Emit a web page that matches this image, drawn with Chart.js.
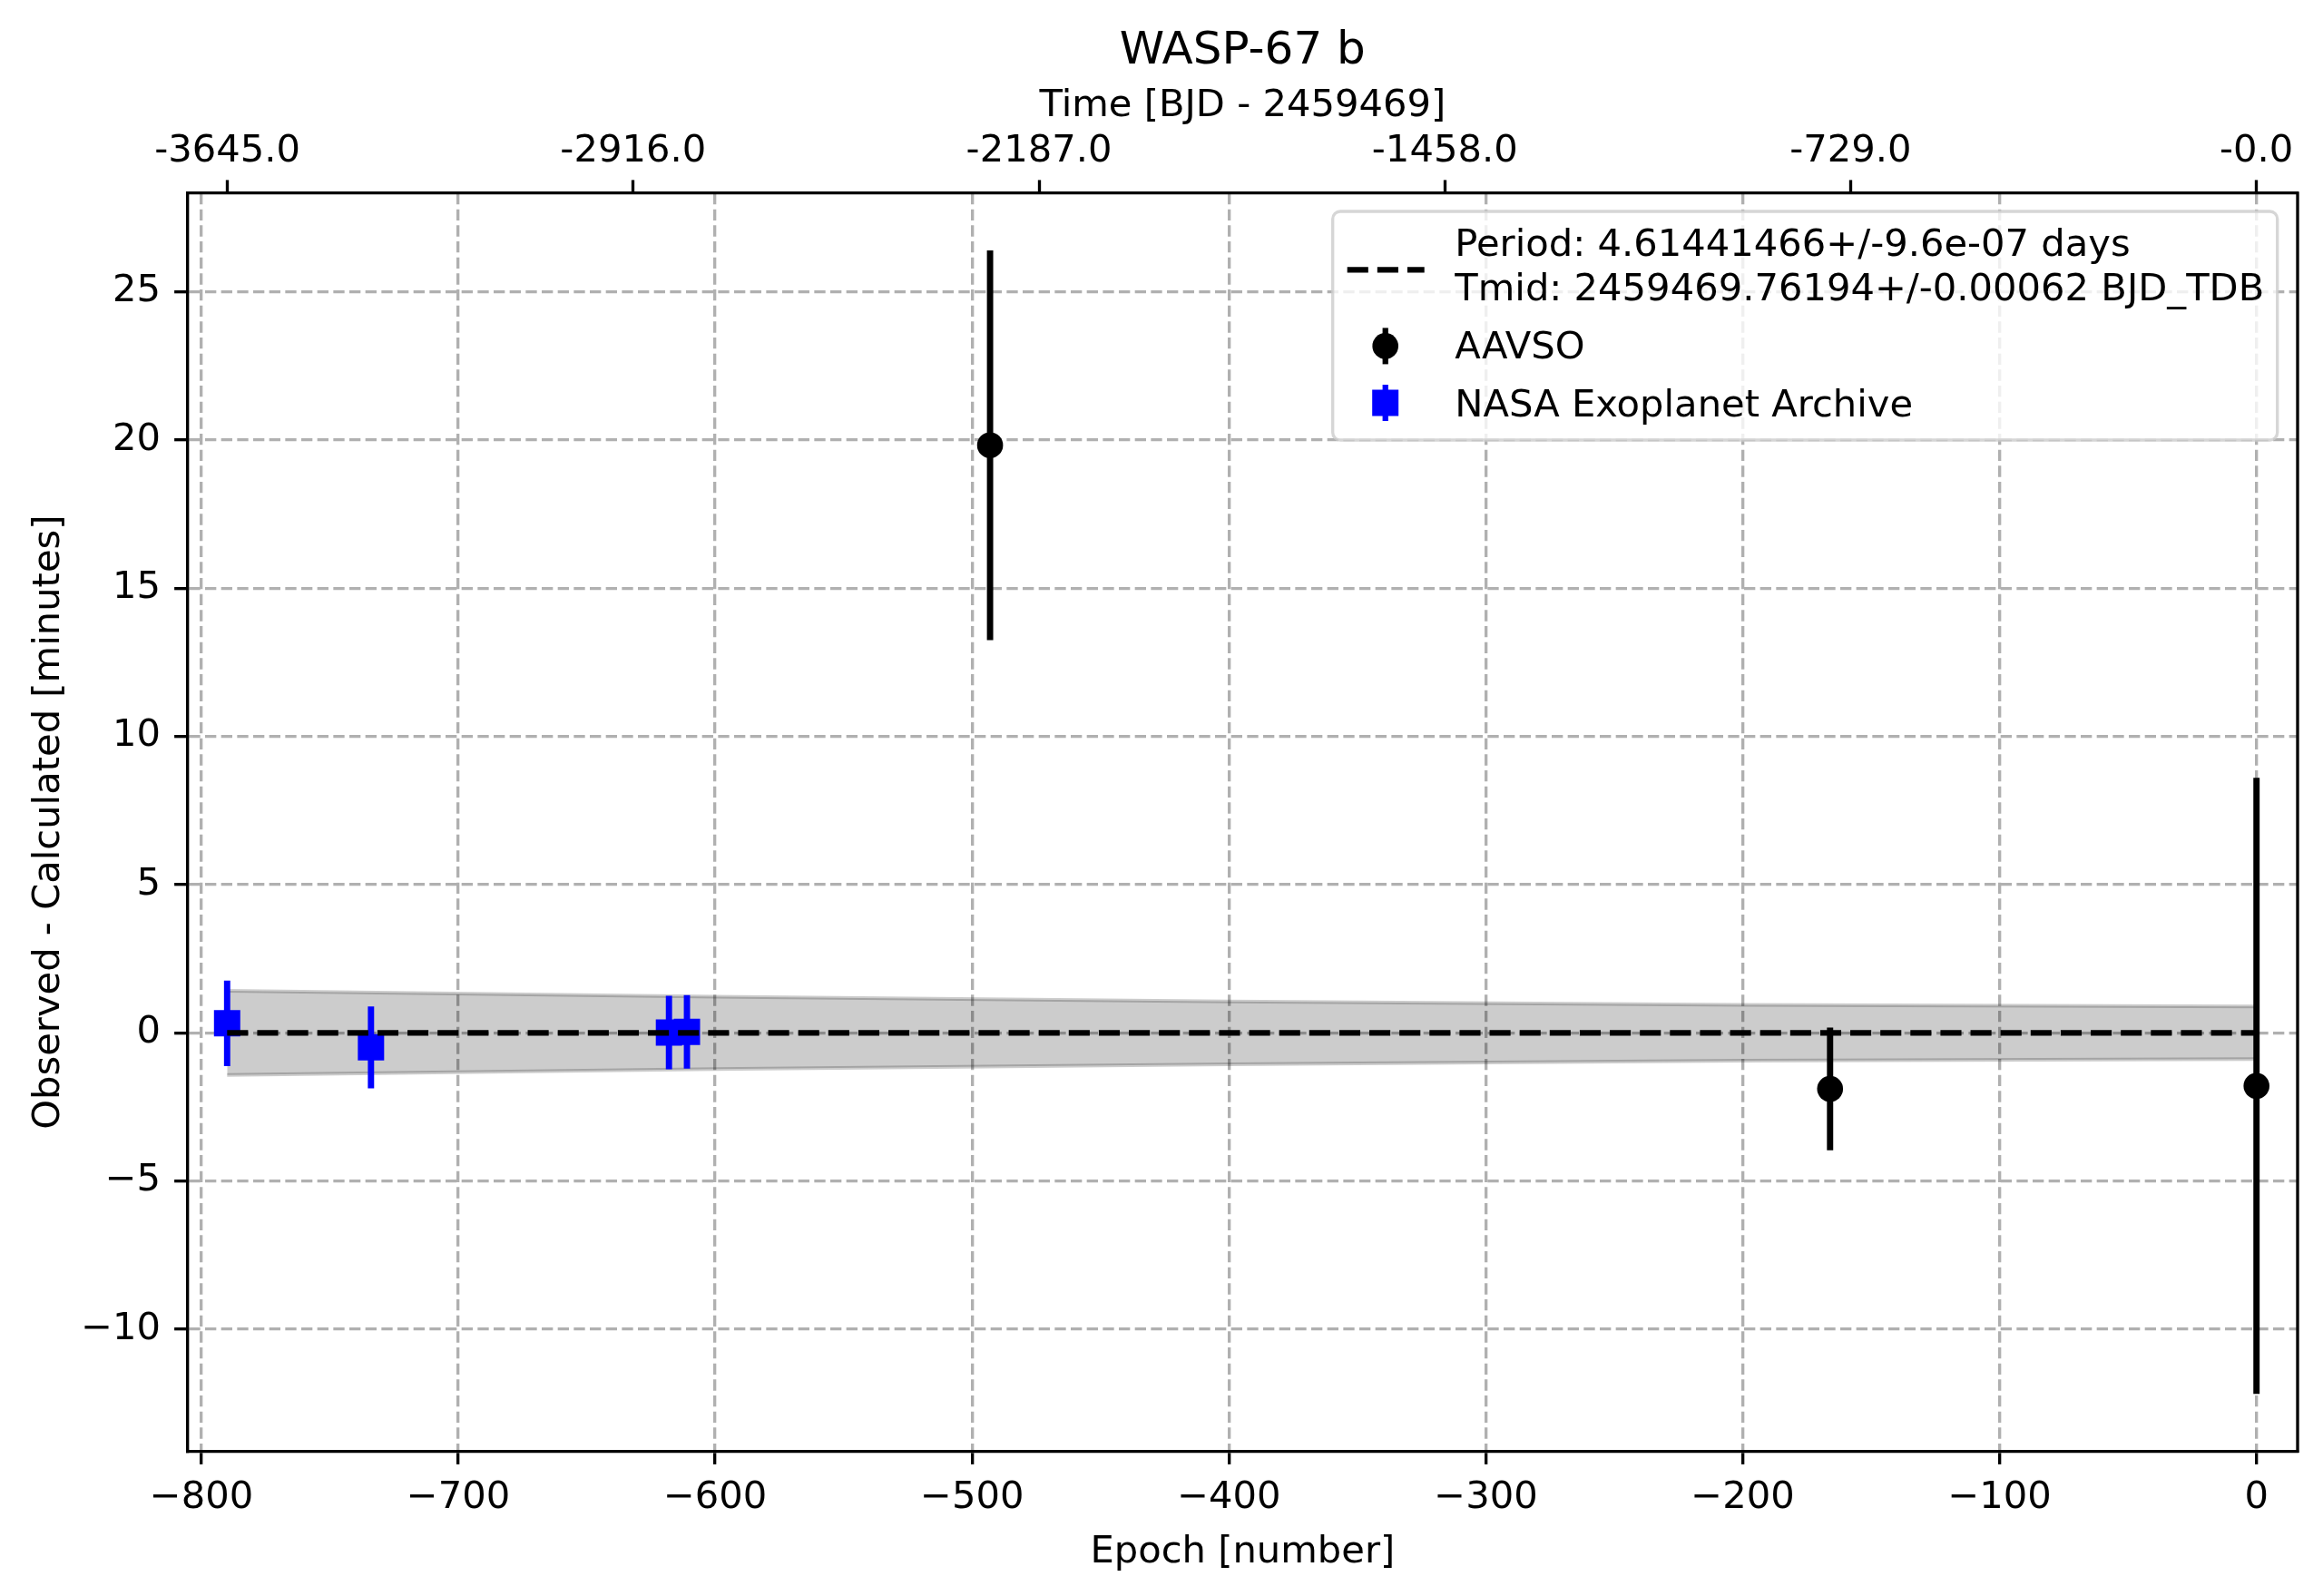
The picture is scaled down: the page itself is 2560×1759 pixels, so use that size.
<!DOCTYPE html>
<html>
<head>
<meta charset="utf-8">
<title>WASP-67 b O-C</title>
<script src="https://cdn.jsdelivr.net/npm/chart.js@4.4.1/dist/chart.umd.min.js"></script>
<style>
  html, body { margin: 0; padding: 0; background: #fff; }
  #wrap { width: 2560px; height: 1759px; }
</style>
</head>
<body>
<div id="wrap"><canvas id="chart" width="2560" height="1759" style="width:2560px;height:1759px"></canvas></div>
<script>
// O-C values (x: epoch number, y: minutes)
const aavsoEpoch = [-493, -166, 0];
const aavsoOC = [19.82, -1.89, -1.79];
const aavsoErr = [6.56, 2.06, 10.38];

const nasaEpoch = [-790, -734, -618, -611];
const nasaOC = [0.32, -0.49, 0.01, 0.03];
const nasaErr = [1.43, 1.37, 1.23, 1.23];

// linear ephemeris (dashed) and its 1-sigma band
const fitEpoch = [-790, 0];
const fitOC = [0, 0];
const bandEpoch = [-790, -600, -400, -200, 0];
const bandUpper = [1.42, 1.22, 1.06, 0.94, 0.89];
const bandLower = [-1.42, -1.22, -1.06, -0.94, -0.89];

// top axis: time ticks in days, converted to epochs with the period
const period = 4.61441466;
const topTickTimes = [-3645, -2916, -2187, -1458, -729, 0];
const topTickLabels = ['-3645.0', '-2916.0', '-2187.0', '-1458.0', '-729.0', '-0.0'];

const fitLabel = ['Period: 4.61441466+/-9.6e-07 days', 'Tmid: 2459469.76194+/-0.00062 BJD_TDB'];

const xMin = -805.4, xMax = 16.0;
const yMin = -14.11, yMax = 28.32;

const PT = 300 / 72; // matplotlib points -> pixels at 300 dpi

Chart.defaults.font.family = "'DejaVu Sans', sans-serif";
Chart.defaults.font.size = 10 * PT;
Chart.defaults.color = '#000';

const pts = (xs, ys) => xs.map((x, i) => ({ x: x, y: ys[i] }));
const errBars = (xs, ys, es) => xs.map((x, i) => ({ x: x, y: [ys[i] - es[i], ys[i] + es[i]] }));
const minusFmt = v => (v < 0 ? '\u2212' + Math.abs(v) : String(v));

const gridDash = [3.7 * 0.8 * PT, 1.6 * 0.8 * PT];

// right spine + matplotlib style legend box
const frame = {
  id: 'frame',
  afterDraw(chart) {
    const ctx = chart.ctx, a = chart.chartArea;
    const fs = 10 * PT;
    ctx.save();
    ctx.strokeStyle = '#000';
    ctx.lineWidth = 0.8 * PT;
    ctx.beginPath();
    ctx.moveTo(a.right, a.top - 1.7);
    ctx.lineTo(a.right, a.bottom + 1.7);
    ctx.stroke();

    const w = 1041, h = 252;
    const x0 = a.right - 22.3 - w, y0 = a.top + 20;
    ctx.beginPath();
    ctx.roundRect(x0, y0, w, h, 0.2 * fs);
    ctx.fillStyle = 'rgba(255,255,255,0.8)';
    ctx.fill();
    ctx.strokeStyle = 'rgba(204,204,204,0.8)';
    ctx.stroke();

    // dashed fit handle
    ctx.strokeStyle = '#000';
    ctx.lineWidth = 1.5 * PT;
    ctx.setLineDash([3.7 * 1.5 * PT, 1.6 * 1.5 * PT]);
    ctx.beginPath();
    ctx.moveTo(x0 + 16, y0 + 64.4);
    ctx.lineTo(x0 + 101, y0 + 64.4);
    ctx.stroke();
    ctx.setLineDash([]);

    const hx = x0 + 58;
    // AAVSO handle
    ctx.fillStyle = '#000';
    ctx.fillRect(hx - 3.1, y0 + 148.4 - 20, 6.25, 40);
    ctx.beginPath();
    ctx.arc(hx, y0 + 148.4, 14.3, 0, Math.PI * 2);
    ctx.fill();
    // NASA handle
    ctx.fillStyle = '#0000ff';
    ctx.fillRect(hx - 3.1, y0 + 211 - 20, 6.25, 40);
    ctx.fillRect(hx - 14.5, y0 + 211 - 14.5, 29, 29);

    ctx.fillStyle = '#000';
    ctx.font = fs + "px 'DejaVu Sans'";
    ctx.textBaseline = 'alphabetic';
    ctx.textAlign = 'left';
    const tx = x0 + 134.6;
    ctx.fillText(fitLabel[0], tx, y0 + 49.4);
    ctx.fillText(fitLabel[1], tx, y0 + 98.4);
    ctx.fillText('AAVSO', tx, y0 + 161.7);
    ctx.fillText('NASA Exoplanet Archive', tx, y0 + 226);
    ctx.restore();
  }
};

new Chart(document.getElementById('chart'), {
  type: 'scatter',
  data: {
    datasets: [
      {
        type: 'line', label: fitLabel.join(' '), data: pts(fitEpoch, fitOC),
        borderColor: '#000', borderWidth: 1.5 * PT,
        borderDash: [3.7 * 1.5 * PT, 1.6 * 1.5 * PT],
        pointRadius: 0, fill: false, order: 0
      },
      {
        type: 'scatter', label: 'AAVSO', data: pts(aavsoEpoch, aavsoOC),
        pointStyle: 'circle', pointRadius: 14.3, pointHoverRadius: 14.3,
        backgroundColor: '#000', borderWidth: 0, order: 1
      },
      {
        type: 'scatter', label: 'NASA Exoplanet Archive', data: pts(nasaEpoch, nasaOC),
        pointStyle: 'rect', pointRadius: 20.5, pointHoverRadius: 20.5,
        backgroundColor: '#0000ff', borderWidth: 0, order: 2
      },
      {
        type: 'bar', label: 'AAVSO err', data: errBars(aavsoEpoch, aavsoOC, aavsoErr),
        backgroundColor: '#000', borderWidth: 0, grouped: false,
        barThickness: 1.5 * PT, maxBarThickness: 1.5 * PT, order: 3
      },
      {
        type: 'bar', label: 'NASA err', data: errBars(nasaEpoch, nasaOC, nasaErr),
        backgroundColor: '#0000ff', borderWidth: 0, grouped: false,
        barThickness: 1.5 * PT, maxBarThickness: 1.5 * PT, order: 4
      },
      {
        type: 'line', label: 'band upper', data: pts(bandEpoch, bandUpper),
        borderColor: 'rgba(0,0,0,0.2)', borderWidth: 4,
        backgroundColor: 'rgba(0,0,0,0.2)', fill: '+1', pointRadius: 0, order: 5
      },
      {
        type: 'line', label: 'band lower', data: pts(bandEpoch, bandLower),
        borderColor: 'rgba(0,0,0,0.2)', borderWidth: 4,
        fill: false, pointRadius: 0, order: 6
      }
    ]
  },
  options: {
    responsive: false,
    devicePixelRatio: 1,
    animation: false,
    events: [],
    layout: { padding: { left: 0, top: 0, right: 28, bottom: 0 } },
    plugins: {
      legend: { display: false },
      tooltip: { enabled: false },
      title: {
        display: true, text: 'WASP-67 b', fullSize: false, color: '#000',
        font: { size: 12 * PT, weight: 'normal' },
        padding: { top: 27, bottom: 0 }
      }
    },
    scales: {
      x: {
        type: 'linear', position: 'bottom', min: xMin, max: xMax, offset: false,
        ticks: { stepSize: 100, includeBounds: false, autoSkip: false, maxRotation: 0, minRotation: 0, padding: 12.6, callback: minusFmt },
        grid: { offset: false, color: '#b0b0b0', lineWidth: 0.8 * PT, drawTicks: true, tickLength: 3.5 * PT, tickColor: '#000', tickWidth: 0.8 * PT },
        border: { display: true, color: '#000', width: 0.8 * PT, dash: gridDash },
        title: { display: true, text: 'Epoch [number]', padding: { top: 0, bottom: 22.5 } },
        afterFit: s => { s.height = 159.7; }
      },
      x2: {
        type: 'linear', position: 'top', min: xMin, max: xMax, offset: false,
        ticks: { autoSkip: false, maxRotation: 0, minRotation: 0, padding: 6.5, callback: (v, i) => topTickLabels[i] },
        grid: { drawOnChartArea: false, drawTicks: true, tickLength: 3.5 * PT, tickColor: '#000', tickWidth: 0.8 * PT },
        border: { display: true, color: '#000', width: 0.8 * PT },
        title: { display: true, text: 'Time [BJD - 2459469]', padding: { top: 4.8, bottom: 0 } },
        afterBuildTicks: s => { s.ticks = topTickTimes.map(t => ({ value: t / period })); },
        afterFit: s => { s.height = 126; }
      },
      y: {
        type: 'linear', position: 'left', min: yMin, max: yMax, beginAtZero: false,
        ticks: { stepSize: 5, includeBounds: false, padding: 15, callback: minusFmt },
        grid: { color: '#b0b0b0', lineWidth: 0.8 * PT, drawTicks: true, tickLength: 3.5 * PT, tickColor: '#000', tickWidth: 0.8 * PT },
        border: { display: true, color: '#000', width: 0.8 * PT, dash: gridDash },
        title: { display: true, text: 'Observed - Calculated [minutes]', padding: { top: 29, bottom: 0 } },
        afterFit: s => { s.width = 206.7; }
      }
    }
  },
  plugins: [frame]
});
</script>
</body>
</html>
